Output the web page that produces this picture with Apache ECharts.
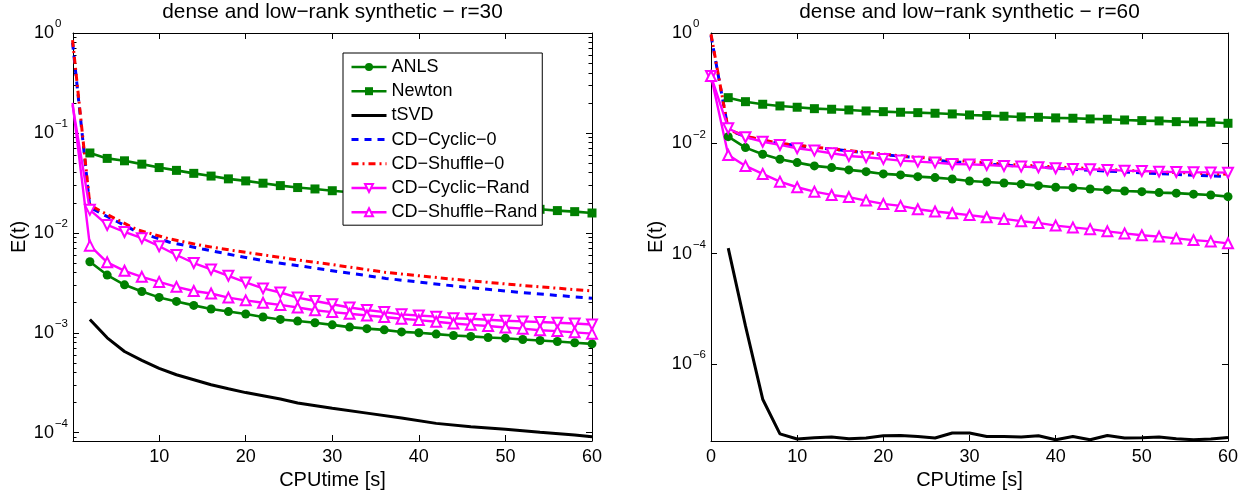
<!DOCTYPE html>
<html><head><meta charset="utf-8">
<script src="https://cdn.jsdelivr.net/npm/echarts@6/dist/echarts.min.js"></script>
<style>html,body{margin:0;padding:0;background:#fff}#c{width:1248px;height:491px}</style>
</head><body><div id="c"></div>
<script>
// ---------------- data ----------------
const names = ['ANLS', 'Newton', 'tSVD', 'CD\u2212Cyclic\u22120', 'CD\u2212Shuffle\u22120', 'CD\u2212Cyclic\u2212Rand', 'CD\u2212Shuffle\u2212Rand'];
const titles = ['dense and low\u2212rank synthetic \u2212 r=30', 'dense and low\u2212rank synthetic \u2212 r=60'];
const xName = 'CPUtime [s]';
const yName = 'E(t)';
const xTicksL = [10, 20, 30, 40, 50, 60];
const xTicksR = [0, 10, 20, 30, 40, 50, 60];
const yMajorL = [1e-4, 1e-3, 1e-2, 1e-1, 1];
const yMajorR = [1e-6, 1e-4, 1e-2, 1];
const minorMantissa = [2, 3, 4, 5, 6, 7, 8, 9];

const tMarks = [2,4,6,8,10,12,14,16,18,20,22,24,26,28,30,32,34,36,38,40,42,44,46,48,50,52,54,56,58,60];
const tRand = [0,2,4,6,8,10,12,14,16,18,20,22,24,26,28,30,32,34,36,38,40,42,44,46,48,50,52,54,56,58,60];

// left panel, r = 30
const anlsL = [0.00514,0.00378,0.00302,0.00259,0.00226,0.00206,0.00188,0.00173,0.00163,0.00154,0.00144,0.00136,0.00131,0.00126,0.0012,0.00114,0.0011,0.00107,0.00102,0.001,0.00097,0.00094,0.00092,0.000897,0.000883,0.000857,0.000837,0.000817,0.000794,0.000775];
const newtonL = [0.063,0.0556,0.0526,0.0487,0.045,0.0422,0.0394,0.037,0.0347,0.0331,0.0314,0.0297,0.0284,0.0275,0.0264,0.0255,0.0246,0.0237,0.0229,0.0221,0.0213,0.0206,0.0199,0.0192,0.0185,0.0179,0.0172,0.0167,0.0163,0.0158];
const tsvdLT = [2,4,6,8,10,12,14,16,18,20,22,24,26,30,34,38,42,46,50,54,58,60];
const tsvdL = [1.36e-3,8.9e-4,6.5e-4,5.3e-4,4.4e-4,3.8e-4,3.39e-4,3.02e-4,2.75e-4,2.52e-4,2.34e-4,2.17e-4,1.98e-4,1.76e-4,1.57e-4,1.4e-4,1.24e-4,1.15e-4,1.08e-4,1.01e-4,9.5e-5,9.1e-5];
const cd0LT = [0,2,3.4,7.4,11.2,15,18.9,22.7,26.6,29.5,36.2,43.9,51.7,60];
const cyc0L = [0.8,0.018,0.0155,0.0103,0.00806,0.0069,0.0059,0.00514,0.00462,0.00424,0.0035,0.00295,0.00253,0.00222];
const shf0L = [0.85,0.019,0.0162,0.0108,0.0087,0.00745,0.00659,0.0059,0.00526,0.00488,0.00402,0.00344,0.00299,0.00262];
const cycRL = [0.19,0.017,0.012,0.0102,0.00885,0.00735,0.006,0.00499,0.0043,0.00372,0.00319,0.00278,0.00253,0.00225,0.00208,0.00193,0.00179,0.00169,0.00161,0.00153,0.00149,0.00145,0.0014,0.00138,0.00135,0.00132,0.0013,0.00128,0.00126,0.00124,0.00121];
const shfRL = [0.2,0.00745,0.00507,0.00417,0.00363,0.00323,0.00288,0.00262,0.00247,0.00225,0.00211,0.002,0.0019,0.00179,0.00168,0.00161,0.00155,0.00149,0.00144,0.00138,0.00134,0.00129,0.00124,0.0012,0.00117,0.00113,0.0011,0.00106,0.00104,0.00101,0.00098];

// right panel, r = 60
const anlsR = [0.0132,0.00836,0.00635,0.00515,0.00447,0.0039,0.00363,0.0033,0.00307,0.00279,0.00268,0.00249,0.00239,0.00226,0.00208,0.00199,0.00191,0.00182,0.00171,0.0016,0.00157,0.00149,0.00143,0.00137,0.00133,0.00128,0.00125,0.0012,0.00116,0.00108];
const newtonR = [0.0673,0.0569,0.0511,0.0476,0.0451,0.0425,0.0415,0.0403,0.0386,0.0375,0.0366,0.036,0.0351,0.0341,0.0327,0.0318,0.031,0.0301,0.0297,0.0289,0.0285,0.0277,0.0273,0.0265,0.0258,0.0255,0.0247,0.0244,0.0241,0.0231];
const tsvdR = [1.26e-4,4.9e-6,2.3e-7,5.4e-8,4.36e-8,4.6e-8,4.74e-8,4.42e-8,4.55e-8,5.0e-8,5.05e-8,4.86e-8,4.55e-8,5.6e-8,5.6e-8,4.86e-8,4.86e-8,4.74e-8,5.0e-8,4.23e-8,4.86e-8,4.23e-8,5.05e-8,4.55e-8,4.6e-8,4.74e-8,4.42e-8,4.23e-8,4.36e-8,4.66e-8];
const cd0RT = [0,2,4,7.8,11.7,15.6,19.4,23.3,27.7,35.5,43.2,50.9,60];
const cyc0R = [0.9,0.0175,0.0132,0.01,0.0085,0.00738,0.00635,0.0056,0.00466,0.0039,0.0033,0.00287,0.00249];
const shf0R = [0.95,0.0178,0.0134,0.0101,0.0086,0.0075,0.0065,0.0057,0.005,0.00406,0.00354,0.00307,0.00275];
const cycRR = [0.166,0.0188,0.0129,0.0107,0.00935,0.00815,0.00738,0.00662,0.00591,0.0056,0.00522,0.00486,0.00466,0.00447,0.00423,0.00415,0.00406,0.0039,0.00379,0.00369,0.00354,0.00344,0.0034,0.0033,0.0032,0.00316,0.00307,0.00303,0.00299,0.00297,0.00294];
const shfRR = [0.166,0.00616,0.0039,0.00279,0.00202,0.0016,0.00133,0.00116,0.00106,0.000916,0.000798,0.000734,0.00064,0.00058,0.00054,0.0005,0.000458,0.000427,0.000388,0.000361,0.000323,0.000299,0.000278,0.000254,0.000233,0.000216,0.000204,0.000189,0.000176,0.000167,0.000154];

// ---------------- chart ----------------
const zip = (xs, ys) => xs.map((x, i) => [x, ys[i]]);
const minorTicks = (lo, hi) => {
  const out = [];
  for (let e = lo; e <= hi; e++) minorMantissa.forEach(m => out.push(m * Math.pow(10, e)));
  return out;
};
const FONT = 'Liberation Sans, Arial, Helvetica, sans-serif';
const GREEN = '#008000', BLUE = '#0000ff', RED = '#ff0000', MAG = '#ff00ff', BLACK = '#000000';

const panels = [
  {grid: {left: 73, top: 33, width: 519, height: 408}, xMin: 0.05, xTicks: xTicksL, yMin: 8.26e-5,
   yMajor: yMajorL, yMinor: minorTicks(-5, -1), nameGap: 43,
   data: {anls: zip(tMarks, anlsL), newton: zip(tMarks, newtonL), tsvd: zip(tsvdLT, tsvdL),
          cyc0: zip(cd0LT, cyc0L), shf0: zip(cd0LT, shf0L), cycR: zip(tRand, cycRL), shfR: zip(tRand, shfRL)}},
  {grid: {left: 711, top: 33, width: 517, height: 408}, xMin: 0, xTicks: xTicksR, yMin: 4.02e-8,
   yMajor: yMajorR, yMinor: [], nameGap: 45,
   data: {anls: zip(tMarks, anlsR), newton: zip(tMarks, newtonR), tsvd: zip(tMarks, tsvdR),
          cyc0: zip(cd0RT, cyc0R), shf0: zip(cd0RT, shf0R), cycR: zip(tRand, cycRR), shfR: zip(tRand, shfRR)}}
];

const supLabel = v => {
  const e = Math.round(Math.log10(v));
  return e < 0 ? '{b|10}{e|\u2212' + (-e) + '}' : '{b|10}{z|' + e + '}';
};

const grids = [], xAxes = [], yAxes = [], series = [];
panels.forEach((p, gi) => {
  grids.push(Object.assign({show: false, outerBoundsMode: 'none', containLabel: false}, p.grid));
  const axLine = {onZero: false, lineStyle: {color: BLACK, width: 1}};
  const xi = xAxes.length;
  const xBase = {gridIndex: gi, type: 'value', min: p.xMin, max: 60, splitLine: {show: false},
    axisLine: axLine, axisTick: {inside: true, length: 6, customValues: p.xTicks, lineStyle: {color: BLACK, width: 1}}};
  xAxes.push(Object.assign({}, xBase, {position: 'bottom',
    axisLabel: {customValues: p.xTicks, fontSize: 18, color: BLACK, margin: 7, fontFamily: FONT},
    name: xName, nameLocation: 'middle', nameGap: 25, nameTextStyle: {fontSize: 20, color: BLACK, fontFamily: FONT}}));
  xAxes.push(Object.assign({}, xBase, {position: 'top', axisLabel: {show: false}}));
  const yi = yAxes.length;
  const yBase = {gridIndex: gi, type: 'log', logBase: 10, min: p.yMin, max: 1, splitLine: {show: false}, axisLine: axLine};
  yAxes.push(Object.assign({}, yBase, {position: 'left',
    axisTick: {inside: true, length: 6, customValues: p.yMajor, lineStyle: {color: BLACK, width: 1}},
    axisLabel: {customValues: p.yMajor, margin: 5, formatter: supLabel, fontFamily: FONT,
      rich: {b: {fontSize: 18, lineHeight: 30, color: BLACK, fontFamily: FONT},
             e: {fontSize: 11.5, lineHeight: 12, verticalAlign: 'top', padding: [0, 0, 0, 1], color: BLACK, fontFamily: FONT},
             z: {fontSize: 11.5, lineHeight: 12, verticalAlign: 'top', padding: [0, 6.7, 0, 1], color: BLACK, fontFamily: FONT}}},
    name: yName, nameLocation: 'middle', nameGap: p.nameGap, nameTextStyle: {fontSize: 20, color: BLACK, fontFamily: FONT}}));
  yAxes.push(Object.assign({}, yBase, {position: 'right',
    axisTick: {inside: true, length: 6, customValues: p.yMajor, lineStyle: {color: BLACK, width: 1}},
    axisLabel: {show: false}}));
  if (p.yMinor.length) {
    ['left', 'right'].forEach(pos => yAxes.push(Object.assign({}, yBase, {position: pos,
      axisLine: {show: false, onZero: false},
      axisTick: {inside: true, length: 3.5, customValues: p.yMinor, lineStyle: {color: BLACK, width: 1}},
      axisLabel: {show: false}})));
  }
  const common = {type: 'line', xAxisIndex: xi, yAxisIndex: yi, animation: false, clip: true};
  const d = p.data;
  series.push(
    Object.assign({}, common, {name: names[0], data: d.anls, symbol: 'circle', symbolSize: 9,
      lineStyle: {color: GREEN, width: 2.6}, itemStyle: {color: GREEN}}),
    Object.assign({}, common, {name: names[1], data: d.newton, symbol: 'rect', symbolSize: 9,
      lineStyle: {color: GREEN, width: 2.6}, itemStyle: {color: GREEN}}),
    Object.assign({}, common, {name: names[2], data: d.tsvd, showSymbol: false, symbol: 'circle',
      lineStyle: {color: BLACK, width: 3}, itemStyle: {color: BLACK}}),
    Object.assign({}, common, {name: names[3], data: d.cyc0, showSymbol: false, symbol: 'circle',
      lineStyle: {color: BLUE, width: 3, type: [7, 6]}, itemStyle: {color: BLUE}}),
    Object.assign({}, common, {name: names[4], data: d.shf0, showSymbol: false, symbol: 'circle',
      lineStyle: {color: RED, width: 3, type: [7, 4, 2, 4]}, itemStyle: {color: RED}}),
    Object.assign({}, common, {name: names[5], data: d.cycR, symbol: 'emptyTriangle', symbolSize: 10, symbolRotate: 180,
      lineStyle: {color: MAG, width: 2.4}, itemStyle: {color: MAG}}),
    Object.assign({}, common, {name: names[6], data: d.shfR, symbol: 'emptyTriangle', symbolSize: 10,
      lineStyle: {color: MAG, width: 2.4}, itemStyle: {color: MAG}})
  );
});

const chart = echarts.init(document.getElementById('c'), null, {renderer: 'canvas'});
chart.setOption({
  animation: false,
  backgroundColor: '#ffffff',
  textStyle: {fontFamily: FONT},
  title: titles.map((t, i) => ({
    text: t, left: i === 0 ? 332.5 : 969.5, top: 2, textAlign: 'center', padding: 0,
    textStyle: {fontSize: 20.8, fontWeight: 'normal', color: BLACK, fontFamily: FONT}
  })),
  legend: {
    orient: 'vertical', left: 343, top: 53,
    backgroundColor: '#ffffff', borderColor: BLACK, borderWidth: 1, borderRadius: 0,
    padding: [5, 5, 4, 7], itemWidth: 35, itemHeight: 10, itemGap: 6.2,
    lineStyle: {width: 'inherit'},
    textStyle: {fontSize: 18, color: BLACK, fontFamily: FONT},
    selectedMode: false,
    data: names.map((n, i) => (i >= 2 && i <= 4) ? {name: n, itemStyle: {opacity: 0}} : {name: n})
  },
  grid: grids,
  xAxis: xAxes,
  yAxis: yAxes,
  series: series
});
</script>
</body></html>
